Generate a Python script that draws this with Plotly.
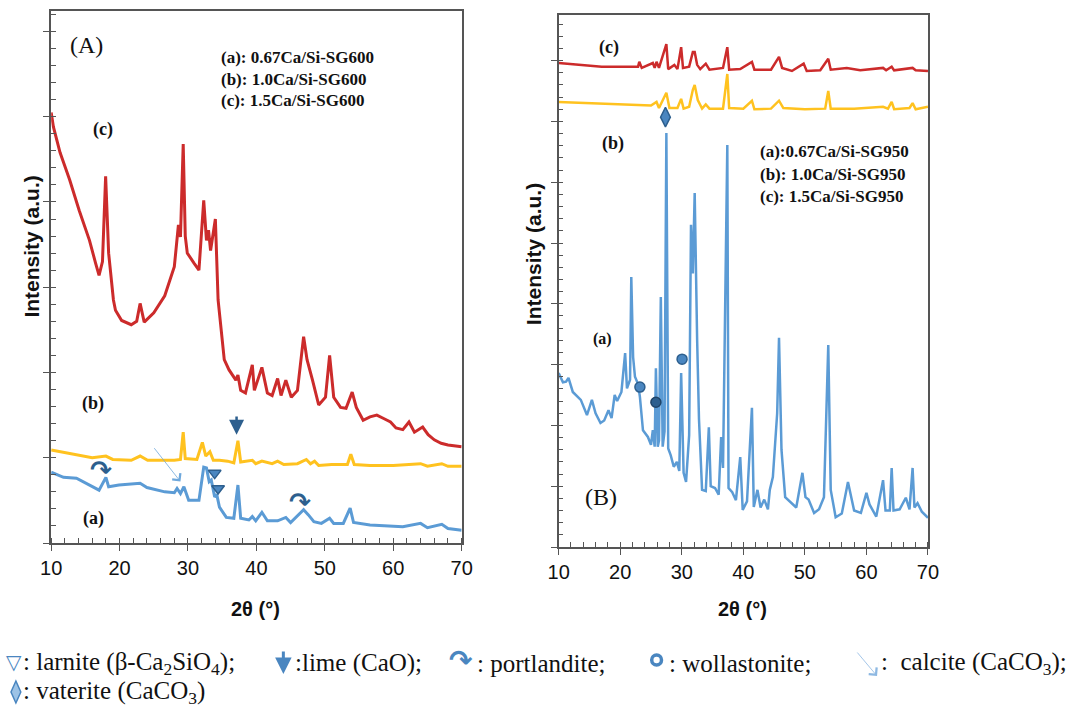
import plotly.graph_objects as go

W, H = 1083, 711

# ---------------- data ----------------
# Panel A (SG600)
A_c = [(10, 5.05), (10.33, 4.88), (11.3, 4.58), (12.7, 4.26), (14.1, 3.90), (15.6, 3.55), (16.5, 3.28),
       (17.0, 3.14), (17.5, 3.30), (17.96, 4.30),
       (18.4, 3.40), (19.1, 2.85), (19.4, 2.73), (20.3, 2.61), (21.7, 2.56), (22.5, 2.60), (23.0, 2.81),
       (23.6, 2.59), (25.0, 2.70), (26.0, 2.83), (26.6, 2.90), (28.0, 3.24), (28.6, 3.73), (28.9, 3.59),
       (29.3, 4.68), (29.6, 3.60), (29.9, 3.40), (30.9, 3.28), (31.6, 3.20), (32.3, 4.02), (32.7, 3.55),
       (33.0, 3.67), (33.3, 3.43), (34.0, 3.80), (34.4, 2.85), (35.3, 2.15), (36.0, 2.03), (37.0, 1.91),
       (37.3, 1.97), (37.7, 1.79), (38.4, 1.76), (39.4, 2.09), (39.7, 1.79), (40.8, 2.06), (41.6, 1.76),
       (42.3, 1.73), (43.1, 1.93), (43.6, 1.73), (44.3, 1.91), (45.1, 1.71), (46.0, 1.79), (46.9, 2.42),
       (47.4, 2.15), (48.2, 1.91), (48.7, 1.76), (49.1, 1.62), (50.1, 1.71), (50.7, 2.20), (51.3, 1.71),
       (52.3, 1.59), (53.1, 1.58), (54.0, 1.77), (54.6, 1.59), (55.6, 1.44), (56.6, 1.48), (57.6, 1.50),
       (58.6, 1.46), (59.6, 1.42), (60.4, 1.35), (61.4, 1.33), (62.3, 1.42), (63.1, 1.30), (64.3, 1.36),
       (65.1, 1.27), (66.0, 1.21), (67.0, 1.17), (68.0, 1.15), (70.0, 1.13)]
A_b = [(10, 1.09), (13.7, 1.03), (16, 1.00), (18.0, 1.02), (19, 0.98), (21.7, 0.97), (23.0, 1.02),
       (24.1, 0.97), (26, 0.97), (28.0, 0.97), (28.9, 0.98), (29.3, 1.30), (29.6, 0.99), (31.3, 0.98),
       (32.1, 1.18), (32.6, 1.02), (33.2, 1.07), (33.7, 0.97), (34.6, 0.97), (35.8, 0.96), (36.7, 0.94),
       (37.3, 1.20), (37.7, 0.95), (39.4, 0.97), (39.9, 0.93), (40.8, 0.96), (42.3, 0.93), (43.1, 0.96),
       (44, 0.92), (46, 0.93), (47.3, 0.98), (47.9, 0.93), (48.5, 0.96), (49.1, 0.91), (51, 0.92),
       (53.3, 0.92), (53.8, 1.04), (54.3, 0.92), (56.6, 0.91), (60, 0.91), (64.0, 0.93), (65, 0.90),
       (67.1, 0.93), (68, 0.90), (70, 0.90)]
A_a = [(10, 0.83), (11.8, 0.77), (13.7, 0.76), (15.6, 0.68), (17.0, 0.62), (18.0, 0.77), (18.4, 0.66),
       (19.9, 0.68), (23.0, 0.70), (24.0, 0.65), (26.6, 0.60), (28.0, 0.59), (28.4, 0.64), (28.9, 0.58),
       (29.4, 0.66), (30.1, 0.50), (31.6, 0.50), (32.3, 0.89), (32.7, 0.88), (33.1, 0.72), (33.4, 0.74),
       (33.9, 0.54), (34.2, 0.57), (34.6, 0.42), (35.6, 0.30), (36.7, 0.29), (37.3, 0.68), (37.7, 0.29),
       (38.9, 0.27), (39.4, 0.31), (39.9, 0.26), (40.8, 0.36), (41.6, 0.26), (43.1, 0.26), (44.3, 0.30),
       (45.0, 0.24), (46.9, 0.39), (47.6, 0.33), (48.4, 0.25), (49.5, 0.23), (50.7, 0.29), (51.3, 0.23),
       (52.7, 0.23), (53.7, 0.41), (54.2, 0.24), (56.6, 0.21), (61.4, 0.19), (64.0, 0.23), (65.0, 0.18),
       (67.1, 0.22), (68.0, 0.17), (70, 0.15)]

# Panel B (SG950)
B_c = [(10, 7.96), (14.4, 7.93), (17, 7.90), (22.9, 7.90), (23.1, 7.98), (23.5, 7.88), (25.3, 7.96),
       (25.6, 7.88), (25.9, 7.98), (26.3, 7.88), (27.5, 8.27), (27.8, 7.86), (28.8, 7.93), (29.3, 7.86),
       (29.9, 8.22), (30.2, 7.88), (31.2, 7.90), (31.8, 8.14), (32.1, 8.14), (32.5, 7.93), (33.0, 7.86),
       (33.9, 7.95), (34.5, 7.85), (36.7, 7.88), (37.4, 8.22), (37.7, 7.85), (39.5, 7.86), (41.4, 7.98),
       (41.8, 7.85), (44.5, 7.85), (45.8, 8.06), (46.3, 7.88), (47.9, 7.83), (49.8, 7.95), (50.3, 7.83),
       (52.5, 7.84), (53.8, 8.03), (54.2, 7.85), (56.8, 7.88), (59, 7.84), (62.7, 7.88), (63.2, 7.84),
       (64.1, 7.90), (64.5, 7.84), (67.5, 7.88), (68, 7.84), (70, 7.83)]
B_b = [(10, 7.32), (14.4, 7.30), (20, 7.28), (25.0, 7.26), (25.9, 7.32), (26.3, 7.22), (27.5, 7.47),
       (28.0, 7.22), (29.3, 7.22), (29.9, 7.37), (30.3, 7.21), (31.2, 7.24), (31.8, 7.52), (32.1, 7.60),
       (32.6, 7.35), (33.3, 7.21), (33.9, 7.28), (34.5, 7.21), (36.7, 7.21), (37.4, 7.78), (37.7, 7.22),
       (40, 7.21), (41.4, 7.34), (41.8, 7.20), (44.5, 7.21), (45.8, 7.34), (46.5, 7.22), (50, 7.20),
       (53.3, 7.21), (53.8, 7.50), (54.2, 7.21), (58, 7.21), (62.7, 7.24), (63.5, 7.21), (64.1, 7.32),
       (64.5, 7.20), (67.0, 7.22), (67.5, 7.30), (68, 7.20), (70, 7.24)]
B_a = [(10, 2.86), (10.7, 2.71), (11.2, 2.72), (11.6, 2.78), (12.3, 2.55), (13.6, 2.42), (14.6, 2.17),
       (15.4, 2.42), (16.0, 2.20), (16.8, 2.04), (17.4, 2.08), (18.1, 2.25), (18.6, 2.12), (19.1, 2.50),
       (19.5, 2.40), (20.2, 2.55), (20.8, 3.19), (21.1, 2.61), (21.6, 2.75), (21.8, 4.44), (22.1, 3.12),
       (22.4, 2.80), (22.9, 2.68), (23.2, 2.47), (23.7, 1.92), (24.5, 1.81), (25.0, 1.68), (25.3, 1.92),
       (25.6, 1.65), (25.8, 2.94), (26.1, 1.65), (26.3, 1.75), (26.6, 4.11), (26.9, 1.65), (27.2, 1.90),
       (27.5, 6.81), (27.8, 1.62), (28.2, 1.51), (28.7, 1.32), (29.2, 1.40), (29.6, 1.25), (29.9, 2.86),
       (30.3, 1.22), (30.7, 1.07), (31.2, 1.84), (31.5, 5.30), (31.8, 4.50), (32.1, 5.82), (32.5, 3.40),
       (32.8, 2.10), (33.3, 0.94), (33.9, 0.92), (34.4, 1.97), (34.7, 1.00), (35.4, 0.97), (36.0, 0.86),
       (36.4, 1.81), (36.7, 1.30), (37.4, 6.61), (37.6, 0.97), (38.2, 0.90), (38.8, 0.77), (39.5, 1.48),
       (39.9, 0.61), (40.6, 0.75), (41.4, 2.29), (41.7, 0.66), (42.3, 0.94), (42.8, 0.65), (43.4, 0.78),
       (44.0, 0.62), (44.3, 0.94), (44.8, 1.15), (45.5, 2.20), (45.8, 3.44), (46.2, 1.60), (46.8, 0.82),
       (47.9, 0.72), (48.6, 0.65), (49.6, 1.22), (50.1, 0.82), (50.6, 0.78), (51.5, 0.56), (52.3, 0.62),
       (53.1, 0.82), (53.8, 3.32), (54.2, 0.94), (55.0, 0.49), (56.0, 0.55), (57.0, 1.07), (57.4, 0.90),
       (58.0, 0.60), (59.1, 0.56), (60.0, 0.89), (60.5, 0.70), (61.6, 0.50), (62.7, 1.10), (63.1, 0.60),
       (63.8, 0.60), (64.1, 1.30), (64.4, 0.60), (65.4, 0.62), (66.4, 0.81), (67.0, 0.62), (67.5, 1.30),
       (67.8, 0.65), (68.3, 0.72), (69.0, 0.58), (70, 0.48)]

# phase markers (2θ, intensity level)
A_portlandite = [(17.3, 0.86), (46.3, 0.48)]
A_larnite = [(33.9, 0.82), (34.4, 0.64)]
A_lime = (37.1, 1.50, 1.27)          # x, tail y, head y
A_calcite = (24.9, 1.13, 28.9, 0.72)  # tail x, tail y, head x, head y
B_vaterite = [(27.35, 7.07)]
B_wollastonite = [(23.2, 2.63), (30.05, 3.09)]
B_wollastonite_dark = [(25.8, 2.38)]

xticks = [10, 20, 30, 40, 50, 60, 70]

RED, YEL, BLUE = "#CC2B2B", "#FFC21F", "#5B9BD5"
MK, MKD = "#4A86C0", "#2D5F8E"
AX = "#555555"


def px2x(p):
    return p / W


def px2y(p):
    return 1 - p / H


fig = go.Figure()


def add_curve(pts, color, xa, ya, width=3):
    fig.add_trace(go.Scatter(x=[p[0] for p in pts], y=[p[1] for p in pts], mode="lines",
                             line=dict(color=color, width=width), xaxis=xa, yaxis=ya,
                             showlegend=False, hoverinfo="skip"))


add_curve(A_c, RED, "x", "y")
add_curve(A_b, YEL, "x", "y")
add_curve(A_a, BLUE, "x", "y")
add_curve(B_c, RED, "x2", "y2", 2.5)
add_curve(B_b, YEL, "x2", "y2", 2.5)
add_curve(B_a, BLUE, "x2", "y2", 2.5)


def add_markers(pts, symbol, size, color, line_color, xa, ya):
    fig.add_trace(go.Scatter(x=[p[0] for p in pts], y=[p[1] for p in pts], mode="markers",
                             marker=dict(symbol=symbol, size=size, color=color,
                                         line=dict(color=line_color, width=1.5)),
                             xaxis=xa, yaxis=ya, showlegend=False, hoverinfo="skip"))


add_markers(A_larnite, "triangle-down", 11, MK, MKD, "x", "y")
add_markers(B_vaterite, "diamond-tall", 14, MK, MKD, "x2", "y2")
add_markers(B_wollastonite, "circle", 10, MK, MKD, "x2", "y2")
add_markers(B_wollastonite_dark, "circle", 10, MKD, "#1f4468", "x2", "y2")

anns = []
for (xx, yy) in A_portlandite:
    anns.append(dict(x=xx, y=yy, xref="x", yref="y", text="<b>↷</b>", showarrow=False,
                     font=dict(family="DejaVu Sans", size=26, color=MKD)))
# lime arrow
anns.append(dict(x=A_lime[0], y=A_lime[2], ax=A_lime[0], ay=A_lime[1], xref="x", yref="y",
                 axref="x", ayref="y", showarrow=True, arrowhead=2, arrowsize=1.2,
                 arrowwidth=2.5, arrowcolor=MKD, text=""))
# calcite arrow
anns.append(dict(x=A_calcite[2], y=A_calcite[3], ax=A_calcite[0], ay=A_calcite[1], xref="x", yref="y",
                 axref="x", ayref="y", showarrow=True, arrowhead=4, arrowsize=2.5,
                 arrowwidth=0.8, arrowcolor="#6FA8DC", text=""))

SERIF = "Liberation Serif"


def text_px(txt, x, y, size, bold=False, family=SERIF, color="#111", xanchor="center"):
    t = f"<b>{txt}</b>" if bold else txt
    anns.append(dict(x=px2x(x), y=px2y(y), xref="paper", yref="paper", text=t, showarrow=False,
                     xanchor=xanchor, yanchor="middle", font=dict(family=family, size=size, color=color)))


# panel labels
text_px("(A)", 77, 45, 24)
text_px("(B)", 602, 497, 24)
text_px("(c)", 94, 129, 18, True)
text_px("(b)", 84, 403, 18, True)
text_px("(a)", 84, 518, 18, True)
text_px("(c)", 610, 47, 18, True)
text_px("(b)", 614, 143, 18, True)
text_px("(a)", 604, 339, 16, True)

legA = ["(a): 0.67Ca/Si-SG600", "(b): 1.0Ca/Si-SG600", "(c): 1.5Ca/Si-SG600"]
for i, s in enumerate(legA):
    text_px(s, 212, 57 + 22 * i, 17, True, xanchor="left")
legB = ["(a):0.67Ca/Si-SG950", "(b): 1.0Ca/Si-SG950", "(c): 1.5Ca/Si-SG950"]
for i, s in enumerate(legB):
    text_px(s, 762, 152 + 22 * i, 17, True, xanchor="left")

# axis titles
for (xc, yc) in [(20, 247), (533, 254)]:
    anns.append(dict(x=px2x(xc), y=px2y(yc), xref="paper", yref="paper", text="<b>Intensity (a.u.)</b>",
                     textangle=-90, showarrow=False, xanchor="center", yanchor="middle",
                     font=dict(family="Liberation Sans", size=21, color="#111")))
for xc in [250, 747]:
    anns.append(dict(x=px2x(xc), y=px2y(609), xref="paper", yref="paper", text="<b>2θ (°)</b>",
                     showarrow=False, xanchor="center", yanchor="middle",
                     font=dict(family="Liberation Sans", size=20, color="#111")))

# bottom key
SYM = "DejaVu Sans"
KEYF = 25
text_px("<b>▽</b>", 3, 662, 20, family=SYM, color=MK)
text_px(": larnite (β-Ca<sub>2</sub>SiO<sub>4</sub>);", 10, 663, KEYF, xanchor="left")
anns.append(dict(x=px2x(278), y=px2y(674), ax=0, ay=-24, xref="paper", yref="paper",
                 axref="pixel", ayref="pixel", showarrow=True, arrowhead=2, arrowsize=1.1,
                 arrowwidth=3, arrowcolor=MK, text=""))
text_px(":lime (CaO);", 288, 663, KEYF, xanchor="left")
text_px("<b>↷</b>", 459, 660, 28, family=SYM, color=MK)
text_px(": portlandite;", 474, 663, KEYF, xanchor="left")
text_px(": wollastonite;", 670, 663, KEYF, xanchor="left")
anns.append(dict(x=px2x(884), y=px2y(676), ax=-21, ay=-25, xref="paper", yref="paper",
                 axref="pixel", ayref="pixel", showarrow=True, arrowhead=4, arrowsize=2.5,
                 arrowwidth=0.8, arrowcolor="#8DB8E2", text=""))
text_px(":  calcite (CaCO<sub>3</sub>);", 886, 663, KEYF, xanchor="left")
text_px(": vaterite (CaCO<sub>3</sub>)", 10, 692, KEYF, xanchor="left")

shapes = [
    # wollastonite key ring
    dict(type="circle", xref="paper", yref="paper", x0=px2x(654), x1=px2x(664), y0=px2y(665), y1=px2y(655),
         line=dict(color=MK, width=3.5), fillcolor="white"),
    # vaterite key diamond
    dict(type="path", xref="paper", yref="paper",
         path=f"M {px2x(5)},{px2y(681)} L {px2x(10)},{px2y(692)} L {px2x(5)},{px2y(703)} L {px2x(0)},{px2y(692)} Z",
         line=dict(color=MK, width=1.5), fillcolor="#9DC3E6"),
]

axis_common = dict(showline=True, linecolor=AX, linewidth=1.5, mirror=True, showgrid=False,
                   zeroline=False, ticks="outside", ticklen=6, tickcolor=AX, tickwidth=1)

xax = dict(axis_common, range=[10, 70], tickvals=xticks, ticktext=[str(v) for v in xticks],
           tickfont=dict(family="Liberation Sans", size=20, color="#111"),
           minor=dict(dtick=2, ticks="inside", ticklen=5, tickcolor=AX, showgrid=False))
yax = dict(axis_common, dtick=1, tick0=0, showticklabels=False,
           minor=dict(dtick=0.2, ticks="inside", ticklen=5, tickcolor=AX, showgrid=False))

fig.update_layout(
    width=W, height=H, margin=dict(l=0, r=0, t=0, b=0),
    paper_bgcolor="white", plot_bgcolor="white", showlegend=False,
    xaxis=dict(xax, domain=[px2x(41), px2x(460)], anchor="y"),
    yaxis=dict(yax, domain=[px2y(543), px2y(11)], range=[0, 6.24], anchor="x"),
    xaxis2=dict(xax, domain=[px2x(559), px2x(936)], anchor="y2"),
    yaxis2=dict(yax, domain=[px2y(547), px2y(15)], range=[0, 8.75], anchor="x2"),
    annotations=anns, shapes=shapes,
)

fig.write_html("out.html")
